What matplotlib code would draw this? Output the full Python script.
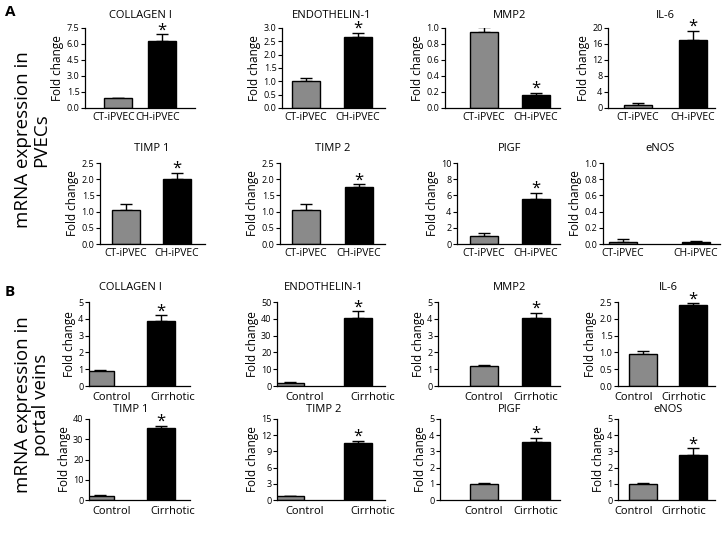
import numpy as np
import matplotlib
matplotlib.use("Agg")
import matplotlib.pyplot as plt

plt.rcParams['font.family'] = ['Open Sans', 'DejaVu Sans']

# ---- data ----
groups_a = ["CT-iPVEC", "CH-iPVEC"]
groups_b = ["Control", "Cirrhotic"]

genes_a = ["COLLAGEN I", "ENDOTHELIN-1", "MMP2", "IL-6",
           "TIMP 1", "TIMP 2", "PlGF", "eNOS"]
means_a = [[0.95, 6.3], [1.02, 2.68], [0.95, 0.16], [0.8, 17.0],
           [1.05, 2.02], [1.05, 1.77], [1.0, 5.6], [0.03, 0.025]]
errs_a = [[0.03, 0.6], [0.1, 0.15], [0.06, 0.03], [0.4, 2.3],
          [0.17, 0.18], [0.17, 0.07], [0.3, 0.7], [0.03, 0.01]]
ymax_a = [7.5, 3.0, 1.0, 20, 2.5, 2.5, 10, 1.0]
ystep_a = [1.5, 0.5, 0.2, 4, 0.5, 0.5, 2, 0.2]
star_a = [True, True, True, True, True, True, True, False]

genes_b = ["COLLAGEN I", "ENDOTHELIN-1", "MMP2", "IL-6",
           "TIMP 1", "TIMP 2", "PlGF", "eNOS"]
means_b = [[0.9, 3.85], [2.0, 40.5], [1.2, 4.05], [0.95, 2.42],
           [2.0, 35.5], [0.7, 10.6], [1.0, 3.55], [1.0, 2.8]]
errs_b = [[0.05, 0.35], [0.4, 4.0], [0.05, 0.3], [0.1, 0.04],
          [0.3, 1.2], [0.1, 0.4], [0.08, 0.3], [0.05, 0.4]]
ymax_b = [5, 50, 5, 2.5, 40, 15, 5, 5]
ystep_b = [1, 10, 1, 0.5, 10, 3, 1, 1]
star_b = [True] * 8

# ---- layout (pixels) ----
W, H = 722, 539
row_y = [(28, 108), (163, 244), (302, 386), (419, 500)]
title_y = [15, 148, 287, 409]
# spine x, bar0 center, bar1 center, right end, label shift
cols = [
    [(85, 118, 162, 195, -4), (282, 306, 358, 385, 0), (445, 484, 536, 560, 0), (608, 638, 693, 715, 0)],
    [(100, 126, 177, 205, 0), (280, 306, 359, 385, 0), (457, 484, 536, 560, 0), (603, 623, 696, 720, 0)],
    [(89, 100, 161, 190, 12), (277, 290, 358, 385, 15), (438, 484, 536, 560, 0), (618, 643, 693, 715, -9)],
    [(89, 100, 161, 190, 12), (277, 290, 358, 385, 15), (440, 484, 536, 560, 0), (618, 643, 693, 715, -9)],
]
bar_px = 28
grey = "#8a8a8a"

fig = plt.figure(figsize=(W / 100, H / 100), dpi=100)


def panel(r, c, title, vals, errs, ymax, ystep, star, labels, lpad, lsize):
    s, c0, c1, rx, shift = cols[r][c]
    yt, yb = row_y[r]
    ax = fig.add_axes([s / W, 1 - yb / H, (rx - s) / W, (yb - yt) / H])
    u = c1 - c0
    xmin = -(c0 - s) / u
    xmax = 1 + (rx - c1) / u
    x = np.arange(2)
    ax.bar(x, vals, width=bar_px / u, color=[grey, "black"], edgecolor="black",
           linewidth=1.0, zorder=2)
    ax.errorbar(x, vals, yerr=[np.zeros(2), errs], fmt="none", ecolor="black",
                elinewidth=1.0, capsize=4, capthick=1.0, zorder=1)
    ax.set_xlim(xmin, xmax)
    ax.set_ylim(0, ymax)
    ticks = np.arange(0, ymax + ystep / 2, ystep)
    ax.set_yticks(ticks)
    if ystep < 1 or (ystep % 1) != 0:
        ax.set_yticklabels(["%.1f" % t for t in ticks])
    else:
        ax.set_yticklabels(["%d" % t for t in ticks])
    ax.set_xticks(x + shift / u)
    ax.set_xticklabels(labels)
    ax.tick_params(axis="x", length=0, pad=lpad, labelsize=lsize)
    ax.tick_params(axis="y", length=3, width=0.8, pad=1, labelsize=6.5)
    for sp in ["top", "right"]:
        ax.spines[sp].set_visible(False)
    for sp in ["left", "bottom"]:
        ax.spines[sp].set_linewidth(0.9)
    ax.set_ylabel("Fold change", fontsize=8.5, labelpad=1.5)
    tx = (0.5 - xmin) / (xmax - xmin)
    ty = (yb - title_y[r]) / (yb - yt)
    ax.text(tx, ty, title, transform=ax.transAxes, fontsize=8,
            ha="center", va="center")
    if star:
        ax.annotate("*", (1, vals[1] + errs[1]), xytext=(0, -3),
                    textcoords="offset points", ha="center", va="bottom",
                    fontsize=12)
    return ax


for i in range(8):
    panel(i // 4, i % 4, genes_a[i], means_a[i], errs_a[i], ymax_a[i],
          ystep_a[i], star_a[i], groups_a, 3, 7.5)
    panel(2 + i // 4, i % 4, genes_b[i], means_b[i], errs_b[i], ymax_b[i],
          ystep_b[i], star_b[i], groups_b, 4, 8)

fig.text(5 / W, 1 - 12 / H, "A", fontsize=11, fontweight="bold", va="center")
fig.text(5 / W, 1 - 292 / H, "B", fontsize=11, fontweight="bold", va="center")
fig.text(32 / W, 1 - 140 / H, "mRNA expression in\nPVECs", rotation=90,
         fontsize=13.5, ha="center", va="center", linespacing=1.0)
fig.text(32 / W, 1 - 405 / H, "mRNA expression in\nportal veins", rotation=90,
         fontsize=13.5, ha="center", va="center", linespacing=1.0)

fig.savefig("out.png", dpi=100)
